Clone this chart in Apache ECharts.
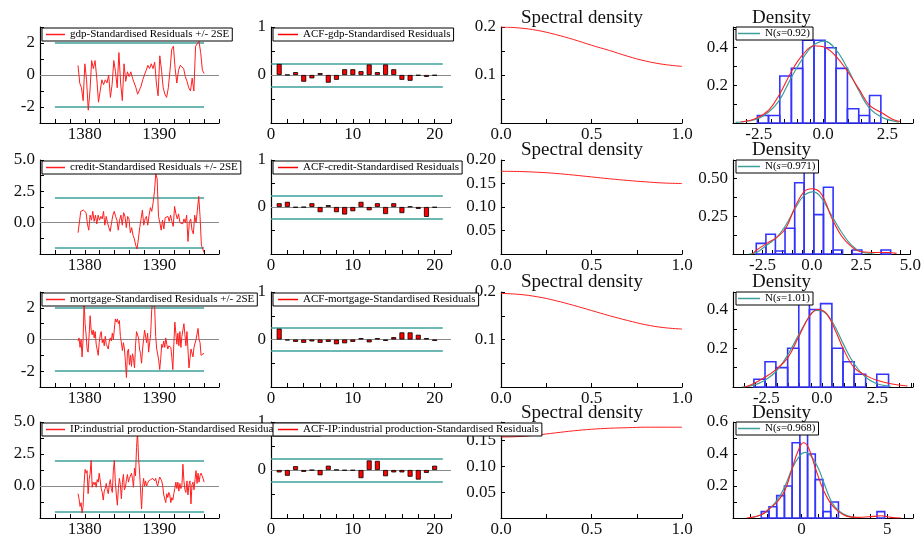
<!DOCTYPE html>
<html><head><meta charset="utf-8">
<script src="https://cdn.jsdelivr.net/npm/echarts@6/dist/echarts.min.js"></script>
<style>html,body{margin:0;padding:0;background:#fff}#c{width:924px;height:538px}</style>
</head><body><div id="c"></div>
<script>
// ================= DATA =================
const resTimeStart = 1379.1, resTimeEnd = 1396.0;
const seBandX = [1376, 1396];
const seBand = 2;
const gdpRes = [0.6,-0.5,-0.8,-1.6,0.7,-0.3,-2.2,-1.0,0.9,0.4,0.9,-0.2,-1.7,-1.0,-0.3,-0.6,-0.3,-0.5,0.0,-1.4,-0.6,0.9,0.2,-0.8,1.4,-0.5,-1.6,0.7,-0.4,0.2,-0.1,0.2,-0.2,-0.5,-0.8,-1.2,-1.3,-0.7,-0.3,0.0,0.3,0.6,0.4,0.7,0.4,0.8,-0.5,-1.3,1.2,0.3,-0.8,-1.2,-1.4,-0.8,0.3,1.6,1.8,0.4,-0.5,0.3,0.6,0.6,0.4,-0.1,-0.4,-0.8,-1.0,-0.2,-1.0,1.8,1.9,2.1,1.4,0.3,0.1];
const creditRes = [-0.8,0.0,0.9,1.0,1.0,1.0,0.8,-0.1,-0.6,0.6,0.2,0.9,0.1,0.6,-0.1,0.6,0.2,0.5,0.3,0.9,-0.2,0.5,0.0,-0.4,-0.7,0.0,0.6,0.9,0.5,0.2,-0.6,0.2,0.6,-0.2,0.8,0.5,-0.4,0.5,0.3,-0.8,-0.4,-1.0,-1.3,-1.8,-2.1,-1.3,-0.4,0.3,1.0,-0.2,0.3,0.5,-0.2,0.6,1.2,0.9,1.6,2.5,3.9,3.5,0.5,0.0,-0.6,0.2,-0.5,0.4,0.5,0.5,0.1,0.6,0.1,-0.3,1.3,0.7,0.3,0.7,0.0,-0.1,-0.1,0.3,0.0,0.6,-1.5,0.0,0.3,-0.6,-0.9,0.6,0.0,1.0,2.1,0.5,-1.8,-2.1,-2.4];
const mortgageRes = [-0.1,0.1,-0.5,0.0,-1.1,0.0,2.4,1.0,0.3,-0.6,-0.8,0.3,1.5,0.6,0.3,0.6,0.1,0.5,-0.3,-0.4,-1.0,-0.2,0.3,0.5,-0.2,0.0,-0.4,0.2,-0.3,-0.3,-0.6,-0.1,0.1,-0.1,0.4,0.0,0.1,1.3,1.1,1.3,1.0,1.2,0.2,-0.2,-0.7,-0.2,-0.6,-1.4,-2.4,-0.8,-0.6,-1.6,-1.0,-1.7,-0.9,-1.2,-1.8,-0.4,0.5,0.6,0.1,-0.6,-0.9,-1.5,-0.6,0.0,0.6,0.7,-0.2,0.4,-0.8,-0.2,0.3,1.8,2.5,2.9,2.0,0.2,-0.6,-0.5,-1.3,-1.9,-1.2,-0.3,-0.5,-0.1,-0.5,0.1,-0.3,-0.6,-0.4,-0.3,-0.5,-1.1,-1.9,-0.3,1.1,0.4,-0.3,0.4,-0.4,0.5,-0.5,0.2,0.1,1.0,0.3,-0.4,0.5,-0.6,-1.8,-1.2,-0.6,-0.7,-1.1,-0.5,-0.4,0.0,0.0,0.7,0.0,-0.2,-1.0,-0.9,-0.9,-0.9];
const ipRes = [-0.6,-1.0,-1.6,-1.3,-2.1,-1.6,0.2,1.3,1.0,1.2,-0.6,0.5,1.0,2.0,-0.1,0.3,0.1,0.3,-0.1,0.5,0.3,1.0,0.9,-0.2,-0.5,-1.1,-0.4,-0.2,0.2,-0.3,-0.6,0.1,0.5,-0.2,-0.5,1.2,2.0,0.3,-0.7,-1.5,-0.2,0.6,0.1,-1.0,0.3,0.9,-0.3,-0.1,0.5,0.9,0.3,0.6,0.5,1.0,0.6,-0.1,1.4,0.8,3.0,4.2,2.2,1.1,-0.3,-1.8,-0.1,0.6,0.0,0.4,0.0,0.2,0.4,0.3,0.5,0.5,0.6,0.5,0.4,0.6,0.2,0.0,0.4,0.7,0.8,0.4,0.0,-0.7,-0.6,-1.3,-0.6,-0.9,-0.5,-0.7,-1.3,-0.9,-1.1,-0.6,-0.2,0.3,-0.2,0.3,-0.4,0.2,-0.2,0.0,1.7,0.4,-0.3,-0.5,0.4,-0.7,0.1,0.4,-1.4,0.1,0.3,-0.3,0.5,1.2,0.2,1.0,0.3,0.8,1.0,0.8,0.6,0.3];

const lags = [1,2,3,4,5,6,7,8,9,10,11,12,13,14,15,16,17,18,19,20];
const acfGdp = [0.23,0.005,0.06,-0.14,-0.07,0.04,-0.16,-0.10,0.12,0.12,0.08,0.22,0.06,0.22,0.12,-0.10,-0.12,-0.01,-0.04,-0.01];
const acfCredit = [0.08,0.11,-0.01,-0.005,0.08,-0.11,0.04,-0.11,-0.16,-0.09,0.11,-0.07,0.08,-0.15,0.08,-0.13,0.01,-0.04,-0.21,-0.01];
const acfMortgage = [0.23,-0.02,-0.05,-0.07,-0.04,-0.07,-0.05,-0.10,-0.08,-0.05,0.03,-0.06,0.03,-0.03,0.05,0.15,0.15,0.10,0.03,-0.03];
const acfIP = [-0.05,-0.12,0.08,-0.04,-0.005,-0.11,0.09,0.005,-0.01,-0.01,-0.17,0.20,0.19,-0.13,-0.05,-0.05,-0.14,-0.20,-0.06,0.09];
const acfBandX = [0, 21];
const acfBand = 0.24;

const freq = [0,0.1,0.2,0.3,0.4,0.5,0.6,0.7,0.8,0.9,1.0];
const specGdp = [0.200,0.198,0.193,0.1845,0.174,0.162,0.151,0.139,0.129,0.122,0.118];
const specCredit = [0.176,0.1755,0.174,0.1715,0.168,0.164,0.160,0.1565,0.1535,0.151,0.150];
const specMortgage = [0.197,0.195,0.190,0.182,0.172,0.161,0.150,0.140,0.131,0.125,0.122];
const specIP = [0.156,0.157,0.160,0.164,0.168,0.171,0.173,0.174,0.175,0.175,0.175];

const gdpEdges = [-2.55,-2.12,-1.68,-1.23,-0.79,-0.35,0.08,0.51,0.95,1.39,1.81,2.25];
const gdpHist = [0.04,0.04,0.25,0.29,0.44,0.44,0.40,0.29,0.076,0.04,0.146];
const creditEdges = [-2.82,-2.33,-1.85,-1.36,-0.87,-0.39,0.10,0.59,1.08,1.56,2.05,2.54,3.02,3.51,4.0];
const creditHist = [0.07,0.13,0.02,0.17,0.47,0.6,0.26,0.44,0.026,0,0.026,0,0,0.026];
const mortgageEdges = [-3.06,-2.56,-2.07,-1.54,-1.04,-0.56,-0.06,0.45,0.95,1.45,1.97,2.47,3.0];
const mortgageHist = [0.04,0.13,0.10,0.20,0.43,0.40,0.43,0.20,0.13,0.066,0,0.066];
const ipEdges = [-2.35,-1.9,-1.45,-1.0,-0.55,-0.1,0.35,0.8,1.25,1.7,2.15,2.6,3.05,3.5,3.95,4.4,4.85];
const ipHist = [0.04,0.07,0.14,0.20,0.47,0.54,0.40,0.24,0.04,0.10,0,0,0,0,0,0.04];

const gdpNormX = [-3.4,-2.6,-2.1,-1.7,-1.2,-0.8,-0.4,0.05,0.5,0.95,1.4,1.8,2.3,2.95];
const gdpNormY = [0.003,0.02,0.06,0.12,0.25,0.34,0.41,0.435,0.39,0.29,0.17,0.08,0.03,0.005];
const gdpKdeX = [-3.2,-2.6,-2.1,-1.7,-1.2,-0.8,-0.35,0.1,0.5,0.95,1.4,1.8,2.25,2.7,3.0];
const gdpKdeY = [0.005,0.025,0.07,0.15,0.28,0.36,0.41,0.40,0.355,0.275,0.18,0.095,0.057,0.02,0.008];
const creditNormX = [-3.2,-2.8,-2.28,-1.78,-1.32,-0.85,-0.4,0.05,0.4,1.0,1.5,2.0,2.5,3.2];
const creditNormY = [0,0.01,0.06,0.11,0.19,0.30,0.385,0.41,0.385,0.255,0.145,0.06,0.015,0];
const creditKdeX = [-3.0,-2.8,-2.28,-1.78,-1.32,-0.85,-0.4,0.0,0.4,0.7,1.0,1.5,2.0,2.5,3.35,3.85,4.3];
const creditKdeY = [0,0.026,0.07,0.11,0.17,0.31,0.41,0.43,0.41,0.34,0.24,0.12,0.05,0.015,0.01,0.01,0.004];
const mortgageNormX = [-3.6,-3.06,-2.56,-2.07,-1.54,-1.04,-0.56,-0.26,0.05,0.5,0.95,1.45,1.97,2.47,3.1];
const mortgageNormY = [0,0.01,0.035,0.08,0.165,0.27,0.365,0.395,0.39,0.33,0.225,0.12,0.05,0.017,0.004];
const mortgageKdeX = [-3.5,-3.2,-2.56,-2.07,-1.54,-1.04,-0.56,-0.2,0.2,0.65,0.95,1.45,1.97,2.47,3.1,3.85];
const mortgageKdeY = [0,0.01,0.05,0.09,0.15,0.26,0.365,0.40,0.38,0.28,0.2,0.10,0.06,0.035,0.017,0.005];
const ipNormX = [-3.0,-2.35,-1.86,-1.43,-0.98,-0.55,-0.1,0.2,0.6,0.98,1.27,1.71,2.16,2.65,3.25];
const ipNormY = [0,0.02,0.06,0.11,0.195,0.31,0.39,0.41,0.38,0.31,0.23,0.11,0.045,0.015,0];
const ipKdeX = [-3.2,-2.35,-1.86,-1.43,-0.98,-0.55,-0.2,0.1,0.4,0.84,1.27,1.71,2.16,2.65,3.25,4.2,4.6,5.2,5.8];
const ipKdeY = [0,0.02,0.06,0.10,0.17,0.31,0.42,0.47,0.44,0.30,0.175,0.09,0.04,0.01,0.004,0.01,0.014,0.004,0];

const resNames = ['gdp-Standardised Residuals +/- 2SE','credit-Standardised Residuals +/- 2SE','mortgage-Standardised Residuals +/- 2SE','IP:industrial production-Standardised Residuals +/- 2SE'];
const acfNames = ['ACF-gdp-Standardised Residuals','ACF-credit-Standardised Residuals','ACF-mortgage-Standardised Residuals','ACF-IP:industrial production-Standardised Residuals'];
const normNames = ['N(s=0.92)','N(s=0.971)','N(s=1.01)','N(s=0.968)'];
const specTitle = 'Spectral density';
const densTitle = 'Density';

// ================= LAYOUT / STYLE =================
const FONT = '"Liberation Serif","DejaVu Serif",serif';
const RED = '#ff1f1f', TEAL = '#3c9f9c', BLUE = '#3434ff', GRAY = '#8a8a8a';
const colLeft = [40, 271, 501, 733];
const colWidth = [179, 180, 181, 180];
const rowTop = [27, 160, 292, 422];
const rowHeight = [96, 94, 95, 96];
const titleTop = [9, 141, 273, 404];

function isMult(v, m){ const q = v/m; return Math.abs(q-Math.round(q)) < 1e-6; }
function fmt(step, dec, lo, hi){
  return function(v){
    if (Math.abs(v) < 1e-9) v = 0;
    if (v < lo-1e-9 || v > hi+1e-9) return '';
    if (!isMult(v, step)) return '';
    return v.toFixed(dec);
  };
}

const rows = [
  {res:gdpRes, resY:[-3,3,1], resFmt:fmt(2,0,-2,2), acf:acfGdp, spec:specGdp, specY:[0,0.2,0.05], specFmt:fmt(0.1,1,0.1,0.2),
   edges:gdpEdges, hist:gdpHist, nX:gdpNormX, nY:gdpNormY, kX:gdpKdeX, kY:gdpKdeY,
   dX:[-3.5,3.5,0.5], dXFmt:fmt(2.5,1,-2.5,2.5), dY:[0,0.51,0.1], dYFmt:fmt(0.2,1,0.2,0.4)},
  {res:creditRes, resY:[-2.5,5,1.25], resFmt:fmt(2.5,1,0,5), acf:acfCredit, spec:specCredit, specY:[0,0.2,0.05], specFmt:fmt(0.05,2,0.05,0.2),
   edges:creditEdges, hist:creditHist, nX:creditNormX, nY:creditNormY, kX:creditKdeX, kY:creditKdeY,
   dX:[-4,5,0.5], dXFmt:fmt(2.5,1,-2.5,5), dY:[0,0.62,0.125], dYFmt:fmt(0.25,2,0.25,0.5)},
  {res:mortgageRes, resY:[-3,3,1], resFmt:fmt(2,0,-2,2), acf:acfMortgage, spec:specMortgage, specY:[0,0.2,0.05], specFmt:fmt(0.1,1,0.1,0.2),
   edges:mortgageEdges, hist:mortgageHist, nX:mortgageNormX, nY:mortgageNormY, kX:mortgageKdeX, kY:mortgageKdeY,
   dX:[-4,4.1,0.5], dXFmt:fmt(2.5,1,-2.5,2.5), dY:[0,0.49,0.1], dYFmt:fmt(0.2,1,0.2,0.4)},
  {res:ipRes, resY:[-2.5,5,1.25], resFmt:fmt(2.5,1,0,5), acf:acfIP, spec:specIP, specY:[0,0.185,0.05], specFmt:fmt(0.05,2,0.05,0.15),
   edges:ipEdges, hist:ipHist, nX:ipNormX, nY:ipNormY, kX:ipKdeX, kY:ipKdeY,
   dX:[-4,6.5,1], dXFmt:fmt(5,0,0,5), dY:[0,0.6,0.1], dYFmt:fmt(0.2,1,0.2,0.6)}
];

function axis(gi, min, max, interval, formatter, isX){
  return {
    type:'value', gridIndex:gi, min:min, max:max, interval:interval,
    axisLine:{show:true, onZero:false, lineStyle:{color:'#000', width:1.2}},
    axisTick:{show:true, inside:true, length:4, lineStyle:{color:'#000', width:1}},
    splitLine:{show:false},
    axisLabel:{color:'#111', fontFamily:FONT, fontSize:17, margin: isX ? 3 : 5, formatter:formatter, showMinLabel:true, showMaxLabel:true, hideOverlap:false}
  };
}

const grid = [], xAxis = [], yAxis = [], series = [], legend = [], title = [];
const labelFont = {fontFamily:FONT, fontSize:11, color:'#000'};

rows.forEach(function(R, r){
  for (let c = 0; c < 4; c++){
    grid.push({left:colLeft[c], top:rowTop[r], width:colWidth[c], height:rowHeight[r], containLabel:false});
  }
  const g0 = r*4, g1 = r*4+1, g2 = r*4+2, g3 = r*4+3;
  // residuals
  xAxis.push(axis(g0, 1374, 1398, 2, fmt(10,0,1380,1390), true));
  yAxis.push(axis(g0, R.resY[0], R.resY[1], R.resY[2], R.resFmt, false));
  // ACF
  xAxis.push(axis(g1, 0, 22, 2, fmt(10,0,0,20), true));
  yAxis.push(axis(g1, -1, 1, 0.5, fmt(1,0,0,1), false));
  // spectral
  xAxis.push(axis(g2, 0, 1, 0.25, fmt(0.5,1,0,1), true));
  yAxis.push(axis(g2, R.specY[0], R.specY[1], R.specY[2], R.specFmt, false));
  // density
  xAxis.push(axis(g3, R.dX[0], R.dX[1], R.dX[2], R.dXFmt, true));
  yAxis.push(axis(g3, R.dY[0], R.dY[1], R.dY[2], R.dYFmt, false));

  const n = R.res.length;
  const resData = R.res.map(function(v, i){ return [resTimeStart + i*(resTimeEnd-resTimeStart)/(n-1), v]; });
  series.push({
    type:'line', name:resNames[r], xAxisIndex:g0, yAxisIndex:g0, data:resData,
    showSymbol:false, symbol:'none', z:3,
    lineStyle:{color:RED, width:1}, itemStyle:{color:RED},
    markLine:{silent:true, symbol:'none', label:{show:false}, animation:false, z:2,
      lineStyle:{color:TEAL, width:1.5, type:'solid'},
      data:[
        {yAxis:0, lineStyle:{color:GRAY, width:1, type:'solid'}},
        [{coord:[seBandX[0], seBand]}, {coord:[seBandX[1], seBand]}],
        [{coord:[seBandX[0], -seBand]}, {coord:[seBandX[1], -seBand]}]
      ]}
  });
  series.push({
    type:'bar', name:acfNames[r], xAxisIndex:g1, yAxisIndex:g1,
    data:lags.map(function(l, i){ return [l, R.acf[i]]; }),
    barWidth:5, z:3,
    itemStyle:{color:'#ff0000', borderColor:'#000', borderWidth:0.8},
    markLine:{silent:true, symbol:'none', label:{show:false}, animation:false, z:2,
      lineStyle:{color:TEAL, width:1.5, type:'solid'},
      data:[
        {yAxis:0, lineStyle:{color:GRAY, width:1, type:'solid'}},
        [{coord:[acfBandX[0], acfBand]}, {coord:[acfBandX[1], acfBand]}],
        [{coord:[acfBandX[0], -acfBand]}, {coord:[acfBandX[1], -acfBand]}]
      ]}
  });
  series.push({
    type:'line', name:'spec'+r, xAxisIndex:g2, yAxisIndex:g2,
    data:freq.map(function(f, i){ return [f, R.spec[i]]; }),
    smooth:0.4, showSymbol:false, symbol:'none', lineStyle:{color:RED, width:1}
  });
  const bins = [];
  for (let i = 0; i < R.hist.length; i++){ if (R.hist[i] > 0) bins.push([R.edges[i], R.edges[i+1], R.hist[i]]); }
  series.push({
    type:'custom', name:'hist'+r, xAxisIndex:g3, yAxisIndex:g3, data:bins, z:2,
    encode:{x:[0,1], y:2},
    renderItem:function(params, api){
      const p0 = api.coord([api.value(0), api.value(2)]);
      const p1 = api.coord([api.value(1), 0]);
      return {type:'rect', shape:{x:p0[0], y:p0[1], width:p1[0]-p0[0], height:p1[1]-p0[1]},
        style:{fill:'rgba(255,255,255,0)', stroke:BLUE, lineWidth:1.6}};
    }
  });
  series.push({
    type:'line', name:normNames[r], xAxisIndex:g3, yAxisIndex:g3,
    data:R.nX.map(function(x, i){ return [x, R.nY[i]]; }),
    smooth:0.4, showSymbol:false, symbol:'none', z:3, lineStyle:{color:TEAL, width:1.2}, itemStyle:{color:TEAL}
  });
  series.push({
    type:'line', name:'kde'+r, xAxisIndex:g3, yAxisIndex:g3,
    data:R.kX.map(function(x, i){ return [x, R.kY[i]]; }),
    smooth:0.4, showSymbol:false, symbol:'none', z:4, lineStyle:{color:RED, width:1.1}
  });

  const legBase = {orient:'horizontal', itemGap:0, icon:'rect', itemHeight:1.5,
    backgroundColor:'#fff', borderColor:'#000', borderWidth:1, borderRadius:0,
    selectedMode:false, textStyle:labelFont, itemStyle:{borderWidth:0}};
  legend.push(Object.assign({}, legBase, {data:[resNames[r]], left:42, top:rowTop[r]+1, padding:[1,3,1,4], itemWidth:19, z:8}));
  legend.push(Object.assign({}, legBase, {data:[acfNames[r]], left:273, top:rowTop[r]+1, padding:[1,3,1,5], itemWidth:20, z:9}));
  legend.push(Object.assign({}, legBase, {data:[normNames[r]], left:736, top:rowTop[r], padding:[1,3,1,2], itemWidth:22, z:9,
    formatter:function(name){ return name.replace('(s=', '({i|s}='); },
    textStyle:Object.assign({}, labelFont, {rich:{i:{fontFamily:FONT, fontSize:11, fontStyle:'italic', color:'#000'}}})}));

  title.push({text:specTitle, left:521, top:titleTop[r], padding:0, z:1,
    textStyle:{fontFamily:FONT, fontSize:19, fontWeight:'normal', color:'#111'}});
  title.push({text:densTitle, left:752, top:titleTop[r], padding:0, z:1,
    textStyle:{fontFamily:FONT, fontSize:19, fontWeight:'normal', color:'#111'}});
});

const chart = echarts.init(document.getElementById('c'), null, {renderer:'canvas'});
chart.setOption({
  animation:false, backgroundColor:'#fff',
  title:title, legend:legend, grid:grid, xAxis:xAxis, yAxis:yAxis, series:series
});
</script></body></html>
